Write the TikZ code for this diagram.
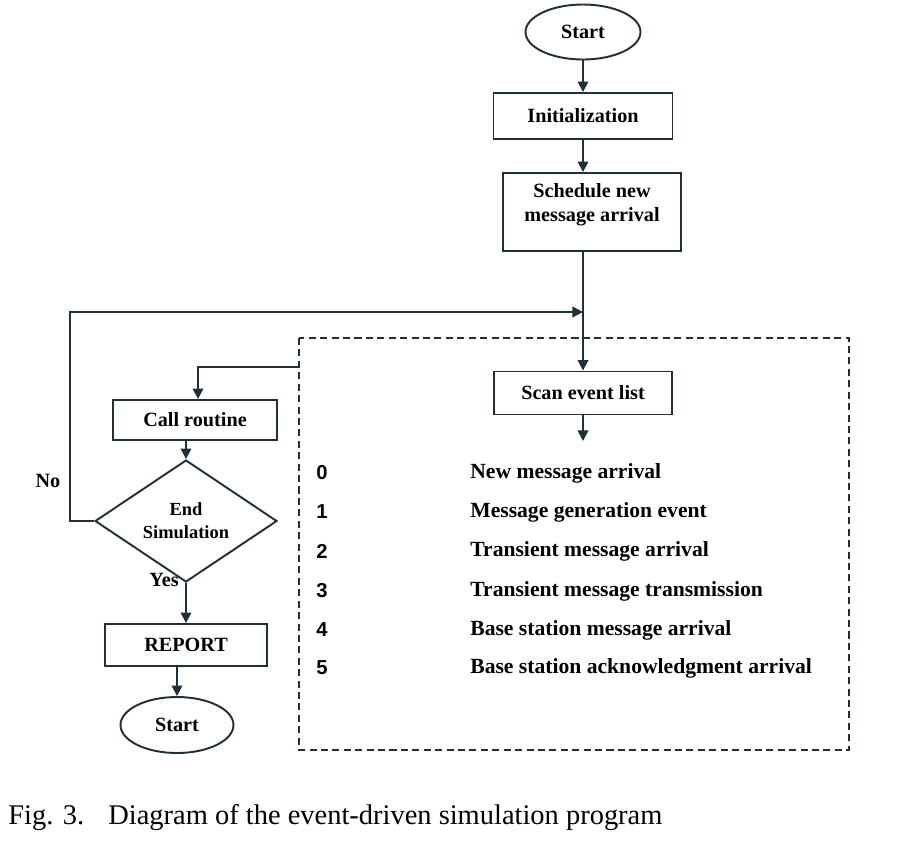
\documentclass[tikz,border=0pt]{standalone}
\usepackage{fontspec}
\setmainfont{Liberation Serif}
\newfontfamily\numfont{Liberation Sans}
\usetikzlibrary{shapes.geometric,arrows.meta}
\definecolor{ln}{rgb}{0.12,0.19,0.22}
\tikzset{
  arr/.style={draw=ln,line width=1.1pt,-{Triangle[length=6pt,width=6pt]}},
  plain/.style={draw=ln,line width=1.1pt},
  box/.style={draw=ln,line width=1.1pt,rectangle,fill=white,font=\fontsize{11.5}{13.5}\selectfont\bfseries,align=center,inner sep=0pt},
  term/.style={draw=ln,line width=1.1pt,ellipse,fill=white,font=\fontsize{11.5}{13.5}\selectfont\bfseries,inner sep=0pt},
  decis/.style={draw=ln,line width=1.1pt,diamond,fill=white,font=\fontsize{10.5}{13}\selectfont\bfseries,align=center,inner sep=0pt},
  num/.style={font=\numfont\fontsize{11.5}{12}\selectfont\bfseries,anchor=west,inner sep=0pt},
  evt/.style={font=\fontsize{12.3}{14}\selectfont\bfseries,anchor=west,inner sep=0pt},
  lbl/.style={font=\fontsize{11.5}{13}\selectfont\bfseries,inner sep=0pt},
  dbox/.style={draw=ln,line width=0.9pt,dash pattern=on 4pt off 2.5pt}
}
\begin{document}
\begin{tikzpicture}[x=0.02cm,y=-0.02cm]
\useasboundingbox (0,0) rectangle (905,843);
% dashed frame
\draw[dbox] (299,338) rectangle (849,750);
\coordinate (tap) at (299,367);
% main column
\node[term,minimum width=2.3cm,minimum height=1.1cm] (start) at (583,32) {Start};
\node[box,minimum width=3.58cm,minimum height=0.92cm] (init) at (583,116) {Initialization};
\node[box,minimum width=3.56cm,minimum height=1.56cm] (sched) at (592,212) {Schedule new\\message arrival\\[-3pt]\mbox{}};
\node[box,minimum width=3.56cm,minimum height=0.86cm] (scan) at (583,393) {Scan event list};
\coordinate (scanend) at (583,441);
\coordinate (join) at (583,312);
\coordinate (nocorner) at (70,312);
% left column
\node[box,minimum width=3.28cm,minimum height=0.8cm] (call) at (195,420) {Call routine};
\node[decis,minimum width=3.64cm,minimum height=1.64cm] (diam) at (186,521) {End\\Simulation};
\node[box,minimum width=3.24cm,minimum height=0.84cm] (report) at (186,645) {REPORT};
\node[term,minimum width=2.26cm,minimum height=1.12cm] (stop) at (177,725) {Start};
\node[lbl] (no) at (48,481) {No};
\node[lbl,anchor=east] (yes) at (179,580) {Yes};
% connectors
\draw[arr] (start) -- (init);
\draw[arr] (init.south) -- (init.south |- sched.north);
\draw[arr] (sched.south -| scan) -- (scan.north);
\draw[arr] (scan.south) -- (scanend);
\draw[arr] (diam.west) -| (nocorner) -- (join);
\draw[arr] (tap) -| (call.north -| 198,0);
\draw[arr] (call.south -| diam.north) -- (diam.north);
\draw[arr] (diam.south) -- (report.north -| diam.south);
\draw[arr] (report.south -| stop.north) -- (stop.north);
% event list
\node[num] (n0) at (316,473) {0};
\node[num] (n1) at (316,512) {1};
\node[num] (n2) at (316,551) {2};
\node[num] (n3) at (316,591) {3};
\node[num] (n4) at (316,630) {4};
\node[num] (n5) at (316,668) {5};
\node[evt] (e0) at (470,473) {New message arrival};
\node[evt] (e1) at (470,512) {Message generation event};
\node[evt] (e2) at (470,551) {Transient message arrival};
\node[evt] (e3) at (470,591) {Transient message transmission};
\node[evt] (e4) at (470,630) {Base station message arrival};
\node[evt] (e5) at (470,668) {Base station acknowledgment arrival};
% caption
\node[anchor=west,inner sep=0pt,font=\fontsize{16.2}{18}\selectfont] (cap1) at (8,818) {Fig. 3.};
\node[anchor=west,inner sep=0pt,font=\fontsize{16.2}{18}\selectfont] (cap2) at (108,818) {Diagram of the event-driven simulation program};
\end{tikzpicture}
\end{document}
